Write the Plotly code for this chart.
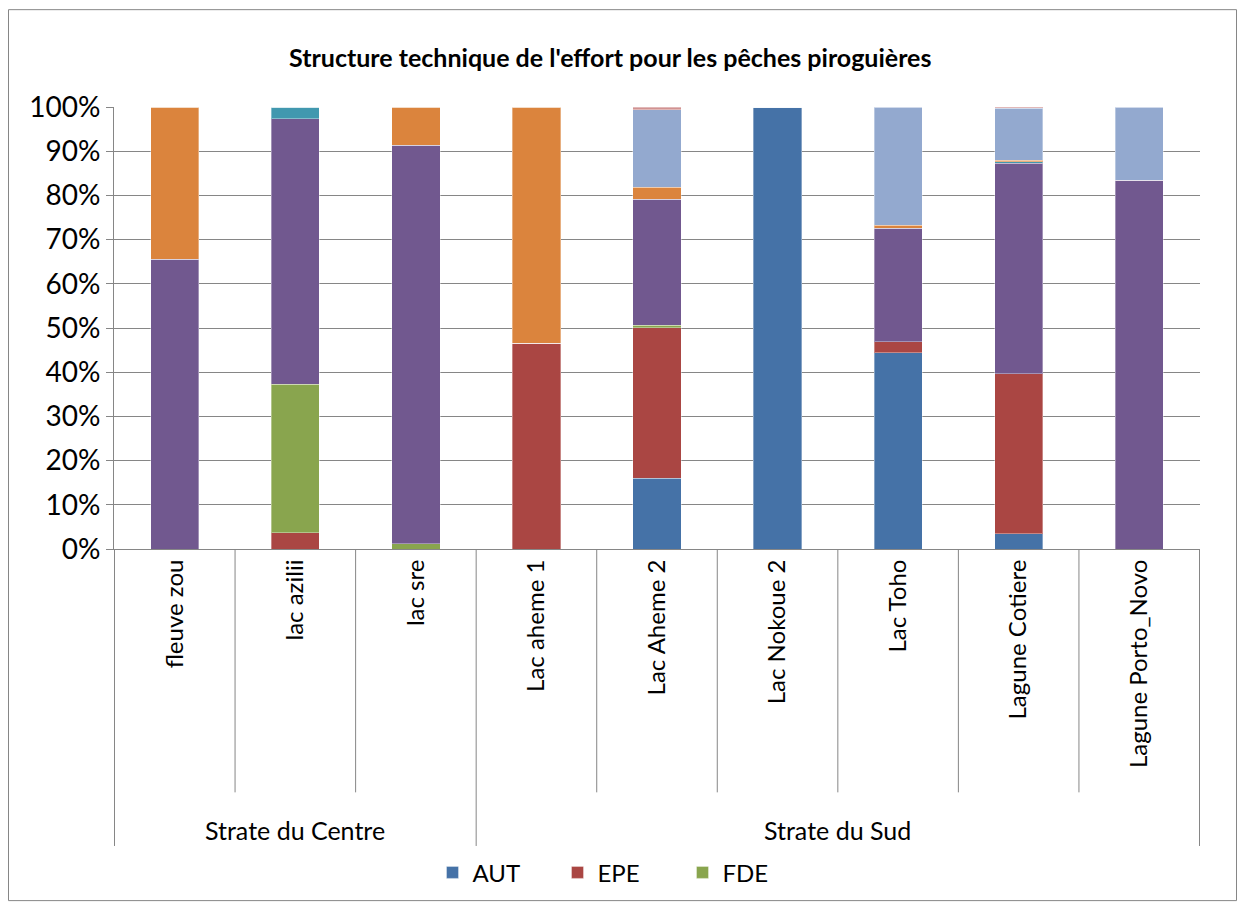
import plotly.graph_objects as go

categories = ["fleuve zou", "lac azilii", "lac sre", "Lac aheme 1", "Lac Aheme 2",
              "Lac Nokoue 2", "Lac Toho", "Lagune Cotiere", "Lagune Porto_Novo"]
groups = ["Strate du Centre", "Strate du Sud"]
group_sizes = [3, 6]

AUT = [0, 0, 0, 0, 16.0, 100, 44.4, 3.4, 0]
EPE = [0, 3.7, 0, 46.5, 34.1, 0, 2.5, 36.3, 0]
FDE = [0, 33.6, 1.2, 0, 0.5, 0, 0, 0, 0]
FMD = [65.5, 60.0, 90.1, 0, 28.5, 0, 25.7, 47.6, 83.4]
FTR = [0, 2.7, 0, 0, 0, 0, 0, 0.3, 0]
LIG = [34.5, 0, 8.7, 53.5, 2.7, 0, 0.7, 0.4, 0]
NAS = [0, 0, 0, 0, 17.6, 0, 26.7, 11.7, 16.6]
PAL = [0, 0, 0, 0, 0.6, 0, 0, 0.3, 0]

series = [("AUT", AUT, "#4572A7", True), ("EPE", EPE, "#AA4643", True),
          ("FDE", FDE, "#89A54E", True), ("FMD", FMD, "#71588F", False),
          ("FTR", FTR, "#4198AF", False), ("LIG", LIG, "#DB843D", False),
          ("NAS", NAS, "#93A9CF", False), ("PAL", PAL, "#D19392", False)]

FONT = "Lato, 'Open Sans', sans-serif"

fig = go.Figure()
for name, vals, color, show in series:
    fig.add_trace(go.Bar(x=categories, y=vals, name=name, showlegend=show,
                         marker=dict(color=color, line=dict(color="rgba(255,255,255,0.35)", width=1))))

OFF = 8  # page body margin
W, H = 1245 - 2 * OFF, 916 - 2 * OFF
# plot area in screen pixels
L, R, T, B = 114, 1200, 107, 552
pw, ph = R - L, B - T

def py(Y):
    return (B - Y) / ph

def px(X):
    return (X - L) / pw

shapes = []
bounds = [-0.5]
acc = -0.5
for g in group_sizes:
    acc += g
    bounds.append(acc)
for i in range(len(categories) + 1):
    xb = i - 0.5
    y1 = py(851) if xb in bounds else py(797)
    shapes.append(dict(type="line", xref="x", yref="paper", x0=xb, x1=xb, y0=0, y1=y1,
                       line=dict(color="#868686", width=1)))
shapes.append(dict(type="rect", xref="paper", yref="paper", x0=px(8.5), x1=px(1236.5),
                   y0=py(906), y1=py(9), line=dict(color="#868686", width=1), layer="below"))

annotations = [dict(text="<b>Structure technique de l'effort pour les pêches piroguières</b>",
                    xref="paper", yref="paper", x=px(610), y=py(57), showarrow=False,
                    xanchor="center", yanchor="middle", font=dict(family=FONT, size=25, color="black"))]
start = 0
for g, n in zip(groups, group_sizes):
    annotations.append(dict(text=g, xref="x", yref="paper", x=start + (n - 1) / 2, y=py(835),
                            showarrow=False, xanchor="center", yanchor="middle",
                            font=dict(family=FONT, size=25, color="black")))
    start += n

fig.update_layout(
    width=W, height=H, barmode="stack", barnorm="percent", bargap=0.6,
    paper_bgcolor="white", plot_bgcolor="white",
    margin=dict(l=L - OFF, r=(1245 - OFF) - R, t=T - OFF, b=(916 - OFF) - B, pad=0),
    font=dict(family=FONT, size=24, color="black"),
    shapes=shapes, annotations=annotations,
    legend=dict(orientation="h", x=px(620), y=py(878), xanchor="center", yanchor="middle",
                font=dict(family=FONT, size=24, color="black"), entrywidth=80, entrywidthmode="pixels",
                traceorder="normal"),
    xaxis=dict(type="category", tickangle=-90, showline=True, linecolor="#868686",
               ticks="", showgrid=False, tickfont=dict(family=FONT, size=24, color="black")),
    yaxis=dict(range=[0, 100], dtick=10, ticksuffix="%", showgrid=True, gridcolor="#868686",
               gridwidth=1, showline=True, linecolor="#868686", ticks="outside", ticklen=7,
               tickcolor="#868686", tickfont=dict(family=FONT, size=28, color="black"),
               zeroline=False),
)

fig.write_html("out.html")
